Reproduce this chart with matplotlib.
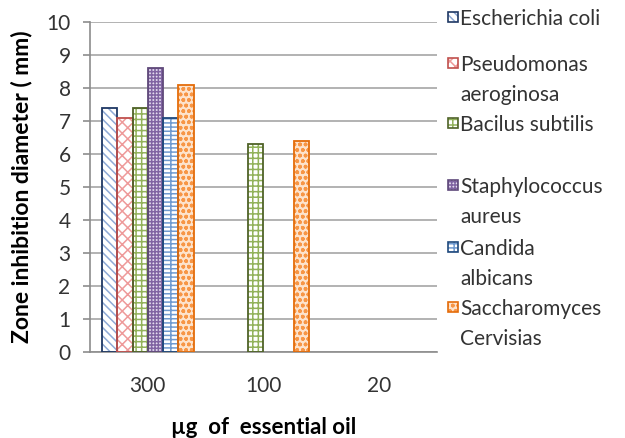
import matplotlib.pyplot as plt
import matplotlib.patches as mpatches
import numpy as np

plt.rcParams['font.family'] = ['Lato', 'DejaVu Sans']
plt.rcParams['hatch.linewidth'] = 1.1

doses = ['300', '100', '20']
labels = ['Escherichia coli', 'Pseudomonas\naeroginosa', 'Bacilus subtilis',
          'Staphylococcus\naureus', 'Candida\nalbicans', 'Saccharomyces\nCervisias']
ecoli = [7.4, 0, 0]
pseudo = [7.1, 0, 0]
bacilus = [7.4, 6.3, 0]
staph = [8.6, 0, 0]
candida = [7.1, 0, 0]
sacch = [8.1, 6.4, 0]
series = [ecoli, pseudo, bacilus, staph, candida, sacch]

# (face, hatch colour, hatch, outline)
styles = [
    ('white', '#8faad6', '\\' * 4, '#1f3864'),
    ('white', '#ee9a9a', 'xxx', '#c0504d'),
    ('white', '#92b25a', '+++', '#4f6228'),
    ('#e4dcef', '#8064a2', '+' * 5, '#5f497a'),
    ('white', '#6f9ad0', '----||', '#1f497d'),
    ('#fde3cc', '#f79646', 'ooo', '#e46c0a'),
]

fig = plt.figure(figsize=(6.25, 4.38), dpi=100)
ax = fig.add_axes([0.144, 0.196, 0.555, 0.754])

x = np.arange(len(doses))
w = 0.132
for i, vals in enumerate(series):
    fc, hc, h, ec = styles[i]
    v = np.array(vals)
    pos = (x + (i - 2.5) * w)[v > 0]
    v = v[v > 0]
    ax.bar(pos, v, w, color=fc, edgecolor=hc, hatch=h, linewidth=0, zorder=2)
    ax.bar(pos, v, w, fill=False, edgecolor=ec, linewidth=1.3, zorder=3)

ax.set_xlim(-0.5, 2.5)
ax.set_ylim(0, 10)
ax.set_yticks(range(0, 11))
ax.set_xticks(x)
ax.set_xticklabels(doses)
ax.yaxis.grid(True, color='#a6a6a6', linewidth=1.2, zorder=0)
ax.set_axisbelow(True)
for s in ['top', 'right']:
    ax.spines[s].set_visible(False)
for s in ['left', 'bottom']:
    ax.spines[s].set_color('#8c8c8c')
    ax.spines[s].set_linewidth(1.2)
ax.tick_params(axis='y', length=5, color='#8c8c8c', width=1.2, labelsize=15, pad=9, labelcolor='#333333')
ax.tick_params(axis='x', length=0, labelsize=15, pad=17, labelcolor='#333333')
ax.set_ylabel('Zone inhibition diameter ( mm)', fontsize=16.5, fontweight='bold', labelpad=10)
ax.set_xlabel('µg  of  essential oil', fontsize=16, fontweight='bold', labelpad=15)

# legend, laid out like the original (one text per line)
leg_y = [17, 63, 123, 185, 247, 307]
for i, lab in enumerate(labels):
    fc, hc, h, ec = styles[i]
    yf = 1 - leg_y[i] / 438
    r = mpatches.Rectangle((448 / 625, yf - 5 / 438), 10 / 625, 10 / 438,
                           transform=fig.transFigure, facecolor=fc, edgecolor=hc,
                           hatch=h, linewidth=0)
    fig.patches.append(r)
    r2 = mpatches.Rectangle((448 / 625, yf - 5 / 438), 10 / 625, 10 / 438,
                            transform=fig.transFigure, fill=False, edgecolor=ec, linewidth=1.2)
    fig.patches.append(r2)
    for k, line in enumerate(lab.split('\n')):
        fig.text(460 / 625, yf - k * 30 / 438, line, fontsize=15, va='center_baseline',
                 ha='left', color='#333333', transform=fig.transFigure)

fig.savefig('out.png', dpi=100)
